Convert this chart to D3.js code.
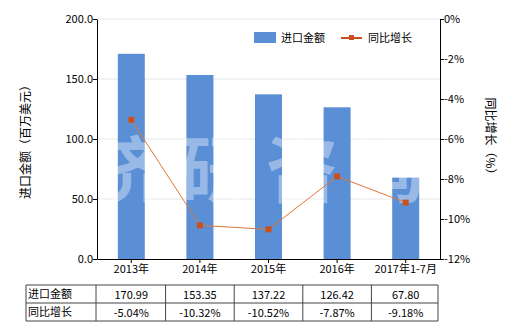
<!DOCTYPE html>
<html>
<head>
<meta charset="utf-8">
<script src="https://cdn.jsdelivr.net/npm/d3@7"></script>
<style>
  body { margin: 0; background: #fff; }
  svg { font-family: "Noto Sans CJK SC", "DejaVu Sans", sans-serif; }
</style>
</head>
<body>
<svg id="chart" width="520" height="330"></svg>
<script>
const categories = ["2013年", "2014年", "2015年", "2016年", "2017年1-7月"];
const importValues = [170.99, 153.35, 137.22, 126.42, 67.80];
const growthValues = [-5.04, -10.32, -10.52, -7.87, -9.18];
const leftTicks = [0, 50, 100, 150, 200];
const rightTicks = [0, -2, -4, -6, -8, -10, -12];
const watermark = ["济", "研", "咨", "询"];

const barColor = "#5a8fd5";
const lineColor = "#c9501c";

const svg = d3.select("#chart");
const plotLeft = 97, plotRight = 440, plotTop = 19, plotBottom = 259;

const x = d3.scaleBand().domain(categories).range([plotLeft, plotRight]);
const y = d3.scaleLinear().domain([0, 200]).range([plotBottom, plotTop]);
const y2 = d3.scaleLinear().domain([-12, 0]).range([plotBottom, plotTop]);

// grid
svg.append("g")
  .selectAll("line")
  .data(leftTicks.filter(d => d > 0))
  .join("line")
  .attr("x1", plotLeft).attr("x2", plotRight)
  .attr("y1", d => y(d)).attr("y2", d => y(d))
  .attr("stroke", "#e6e6e6");

// bars
const bw = 27;
svg.append("g")
  .selectAll("rect")
  .data(importValues)
  .join("rect")
  .attr("x", (d, i) => x(categories[i]) + x.bandwidth() / 2 - bw / 2)
  .attr("y", d => y(d))
  .attr("width", bw)
  .attr("height", d => y(0) - y(d))
  .attr("fill", barColor);

// watermark
svg.append("g")
  .selectAll("text")
  .data(watermark)
  .join("text")
  .attr("x", (d, i) => 128 + i * 87)
  .attr("y", 196)
  .attr("text-anchor", "middle")
  .attr("font-size", 72)
  .attr("font-weight", "bold")
  .attr("fill", "#fff")
  .attr("fill-opacity", 0.38)
  .text(d => d);

// line
const line = d3.line()
  .x((d, i) => x(categories[i]) + x.bandwidth() / 2)
  .y(d => y2(d));
svg.append("path")
  .datum(growthValues)
  .attr("d", line)
  .attr("fill", "none")
  .attr("stroke", "#e0763a")
  .attr("stroke-width", 1);
svg.append("g")
  .selectAll("rect")
  .data(growthValues)
  .join("rect")
  .attr("x", (d, i) => x(categories[i]) + x.bandwidth() / 2 - 3)
  .attr("y", d => y2(d) - 3)
  .attr("width", 6).attr("height", 6)
  .attr("fill", lineColor);

// axes
const fmt = d3.format(".1f");
const axL = svg.append("g")
  .attr("transform", `translate(${plotLeft},0)`)
  .call(d3.axisLeft(y).tickValues(leftTicks).tickFormat(fmt).tickSize(4).tickSizeOuter(0));
const axR = svg.append("g")
  .attr("transform", `translate(${plotRight},0)`)
  .call(d3.axisRight(y2).tickValues(rightTicks).tickFormat(d => d + "%").tickSize(4).tickSizeOuter(0));
const axB = svg.append("g")
  .attr("transform", `translate(0,${plotBottom})`)
  .call(d3.axisBottom(x).tickSize(4).tickSizeOuter(0));
[axL, axR, axB].forEach(g => {
  g.select(".domain").attr("stroke", "#000");
  g.selectAll(".tick line").attr("stroke", "#000");
  g.selectAll("text").attr("font-size", 11).attr("fill", "#000")
    .attr("font-family", "\"Noto Sans CJK SC\", sans-serif");
});
axL.selectAll("text").attr("x", -4);
axR.selectAll("text").attr("x", 4);
axB.selectAll("text").attr("y", 6);

// axis titles
svg.append("text")
  .attr("transform", "translate(30,139) rotate(-90)")
  .attr("text-anchor", "middle")
  .attr("font-size", 12)
  .text("进口金额（百万美元）");
svg.append("text")
  .attr("transform", "translate(486,139) rotate(90)")
  .attr("text-anchor", "middle")
  .attr("font-size", 12)
  .text("同比增长（%）");

// legend
svg.append("rect").attr("x", 254).attr("y", 32).attr("width", 22).attr("height", 11).attr("fill", barColor);
svg.append("text").attr("x", 281).attr("y", 42).attr("font-size", 11).text("进口金额");
svg.append("line").attr("x1", 341).attr("x2", 362).attr("y1", 38).attr("y2", 38)
  .attr("stroke", lineColor).attr("stroke-width", 2);
svg.append("rect").attr("x", 349).attr("y", 35).attr("width", 5).attr("height", 5).attr("fill", lineColor);
svg.append("text").attr("x", 368).attr("y", 42).attr("font-size", 11).text("同比增长");

// table
const tLeft = 26, tTop = 285, rowH = 18;
const rows = [
  { label: "进口金额", vals: importValues.map(d => d.toFixed(2)) },
  { label: "同比增长", vals: growthValues.map(d => d.toFixed(2) + "%") }
];
const colEdges = [tLeft].concat(categories.map(c => x(c))).concat([plotRight - 2]);
colEdges[1] = plotLeft - 1;
const tbl = svg.append("g");
rows.forEach((r, ri) => {
  const yy = tTop + ri * rowH;
  tbl.append("text").attr("x", tLeft + 2).attr("y", yy + 13).attr("font-size", 11).text(r.label);
  r.vals.forEach((v, i) => {
    tbl.append("text")
      .attr("x", x(categories[i]) + x.bandwidth() / 2)
      .attr("y", yy + 14)
      .attr("text-anchor", "middle")
      .attr("font-size", 11)
      .text(v);
  });
});
[0, 1, 2].forEach(i => {
  tbl.append("line").attr("x1", tLeft).attr("x2", colEdges[colEdges.length - 1])
    .attr("y1", tTop + i * rowH).attr("y2", tTop + i * rowH).attr("stroke", "#444");
});
colEdges.forEach(cx => {
  tbl.append("line").attr("x1", cx).attr("x2", cx)
    .attr("y1", tTop).attr("y2", tTop + 2 * rowH).attr("stroke", "#444");
});
</script>
</body>
</html>
